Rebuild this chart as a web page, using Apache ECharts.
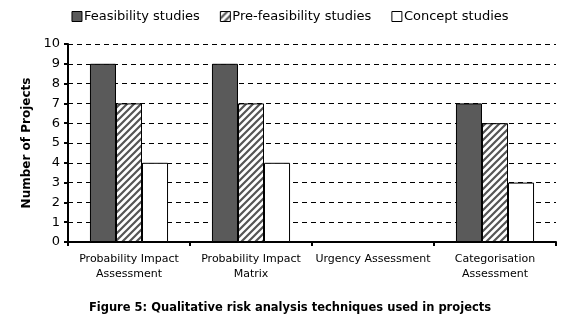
<!DOCTYPE html>
<html>
<head>
<meta charset="utf-8">
<script src="https://cdn.jsdelivr.net/npm/echarts@6/dist/echarts.min.js"></script>
<style>
html, body { margin: 0; padding: 0; background: #fff; }
#chart { width: 580px; height: 314px; }
</style>
</head>
<body>
<div id="chart"></div>
<script>
// data
var categories = ['Probability Impact\nAssessment', 'Probability Impact\nMatrix', 'Urgency Assessment', 'Categorisation\nAssessment'];
var feasibility = [9, 9, 0, 7];
var preFeasibility = [7, 7, 0, 6];
var concept = [4, 4, 0, 3];
var yTicks = [0, 10, 1];

var font = 'DejaVu Sans';

// hatch pattern for pre-feasibility bars
var hatch = document.createElement('canvas');
hatch.width = 7;
hatch.height = 7;
var ctx = hatch.getContext('2d');
ctx.fillStyle = '#fff';
ctx.fillRect(0, 0, 7, 7);
ctx.strokeStyle = '#555';
ctx.lineWidth = 2.2;
ctx.beginPath();
ctx.moveTo(-1, 8); ctx.lineTo(8, -1);
ctx.moveTo(-4, 4); ctx.lineTo(4, -4);
ctx.moveTo(3, 11); ctx.lineTo(11, 3);
ctx.stroke();

var chart = echarts.init(document.getElementById('chart'));

var option = {
	animation : false,
	textStyle : { fontFamily : font, color : '#000' },
	title : {
		text : 'Figure 5: Qualitative risk analysis techniques used in projects',
		left : 'center',
		top : 297,
		textStyle : { fontFamily : font, fontSize : 11.5, fontWeight : 'bold', color : '#000' }
	},
	legend : {
		top : 5,
		left : 'center',
		icon : 'rect',
		itemWidth : 10,
		itemHeight : 10,
		itemGap : 20,
		itemStyle : { borderColor : '#000', borderWidth : 1 },
		textStyle : { fontFamily : font, fontSize : 13, color : '#000', padding : [0, 0, 0, -3] },
		data : ['Feasibility studies', 'Pre-feasibility studies', 'Concept studies']
	},
	grid : {
		left : 68,
		right : 24,
		top : 44,
		bottom : 72
	},
	xAxis : {
		type : 'category',
		data : categories,
		axisLine : { lineStyle : { color : '#000', width : 2 } },
		axisTick : { show : true, length : 4, lineStyle : { color : '#000', width : 2 } },
		axisLabel : { fontFamily : font, fontSize : 11, color : '#000', margin : 10, lineHeight : 15, interval : 0 },
		splitLine : { show : false }
	},
	yAxis : {
		type : 'value',
		min : yTicks[0],
		max : yTicks[1],
		interval : yTicks[2],
		name : 'Number of Projects',
		nameLocation : 'middle',
		nameGap : 35,
		nameTextStyle : { fontFamily : font, fontSize : 12, fontWeight : 'bold', color : '#000' },
		axisLine : { show : true, lineStyle : { color : '#000', width : 2 } },
		axisTick : { show : true, length : 4, inside : false, lineStyle : { color : '#000', width : 2 } },
		axisLabel : { fontFamily : font, fontSize : 13, color : '#000', margin : 8 },
		splitLine : { show : true, lineStyle : { color : '#000', type : [5, 4], width : 1 } }
	},
	series : [ {
		name : 'Feasibility studies',
		type : 'bar',
		barGap : '0%',
		barCategoryGap : '36%',
		itemStyle : { color : '#5a5a5a', borderColor : '#000', borderWidth : 1 },
		data : feasibility
	}, {
		name : 'Pre-feasibility studies',
		type : 'bar',
		itemStyle : { color : { image : hatch, repeat : 'repeat' }, borderColor : '#000', borderWidth : 1 },
		data : preFeasibility
	}, {
		name : 'Concept studies',
		type : 'bar',
		itemStyle : { color : '#fff', borderColor : '#000', borderWidth : 1 },
		data : concept
	} ]
};

chart.setOption(option);
</script>
</body>
</html>
